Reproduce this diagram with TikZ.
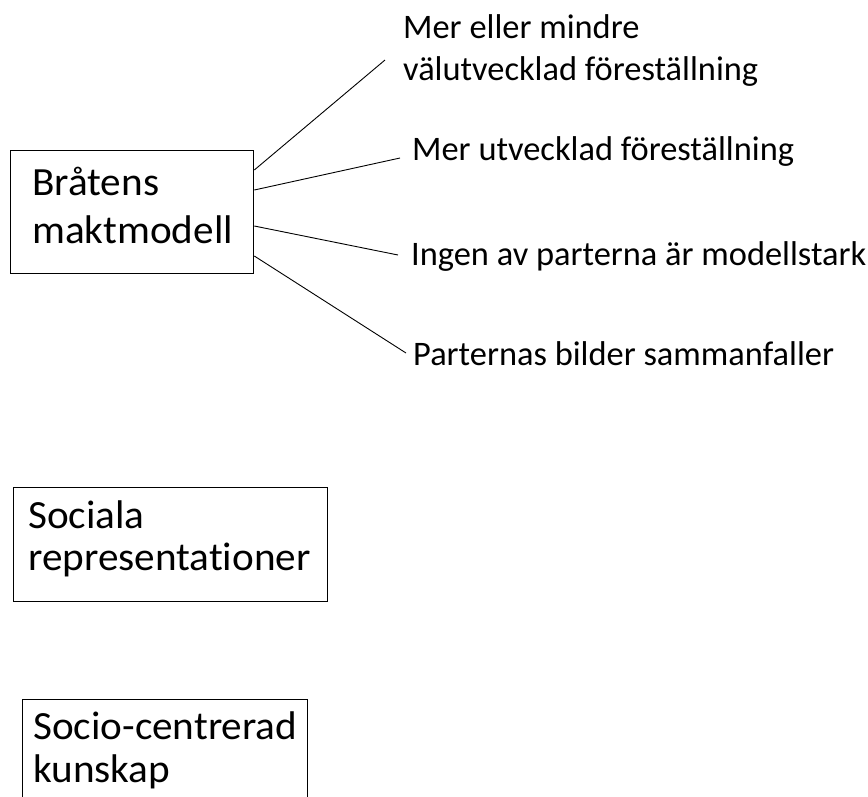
\documentclass[tikz,border=0pt]{standalone}
\usepackage{fontspec}
\setmainfont{Carlito}
\newfontfamily\bigf[FakeStretch=1.03,Ligatures=NoCommon]{Carlito}
\newfontfamily\smallf[Ligatures=NoCommon]{Carlito}
\begin{document}
\begin{tikzpicture}[x=1pt,y=-1pt,
  boxshape/.style={draw, line width=1.3pt, rectangle, inner sep=0pt, anchor=north west},
  bigtext/.style={anchor=base west, inner sep=0pt, align=left, font=\bigf\fontsize{40}{48}\selectfont},
  smalltext/.style={anchor=base west, inner sep=0pt, align=left, font=\smallf\fontsize{34.4}{42}\selectfont},
  conn/.style={line width=0.9pt}]
\clip (0,0) rectangle (868,796);
\useasboundingbox (0,0) rectangle (868,796);
% Box 1
\node[boxshape, minimum width=243pt, minimum height=123pt] (b1) at (10,150) {};
\node[bigtext] (b1t) at (32,243) {Bråtens\\maktmodell};
% Labels
\node[smalltext] (l1) at (403,80) {Mer eller mindre\\välutvecklad föreställning};
\node[smalltext] (l2) at (412,160) {Mer utvecklad föreställning};
\node[smalltext] (l3) at (411,265) {Ingen av parterna är modellstark};
\node[smalltext] (l4) at (413,365) {Parternas bilder sammanfaller};
\coordinate (e1) at (385,60);
\coordinate (e2) at (400,158);
\coordinate (e3) at (398,255);
\coordinate (e4) at (406,353);
\draw[conn] ([yshift=-20pt]b1.north east) -- (e1);
\draw[conn] ([yshift=-40pt]b1.north east) -- (e2);
\draw[conn] ([yshift=-76pt]b1.north east) -- (e3);
\draw[conn] ([yshift=-106pt]b1.north east) -- (e4);
% Box 2
\node[boxshape, minimum width=314pt, minimum height=114pt] (b2) at (13,487) {};
\node[bigtext, font=\bigf\fontsize{40}{42}\selectfont] (b2t) at (28,570) {Sociala\\representationer};
% Box 3
\node[boxshape, minimum width=285pt, minimum height=120pt] (b3) at (22,699) {};
\node[bigtext, font=\bigf\fontsize{40}{43}\selectfont] (b3t) at (33,782) {Socio-centrerad\\kunskap};
\end{tikzpicture}
\end{document}
